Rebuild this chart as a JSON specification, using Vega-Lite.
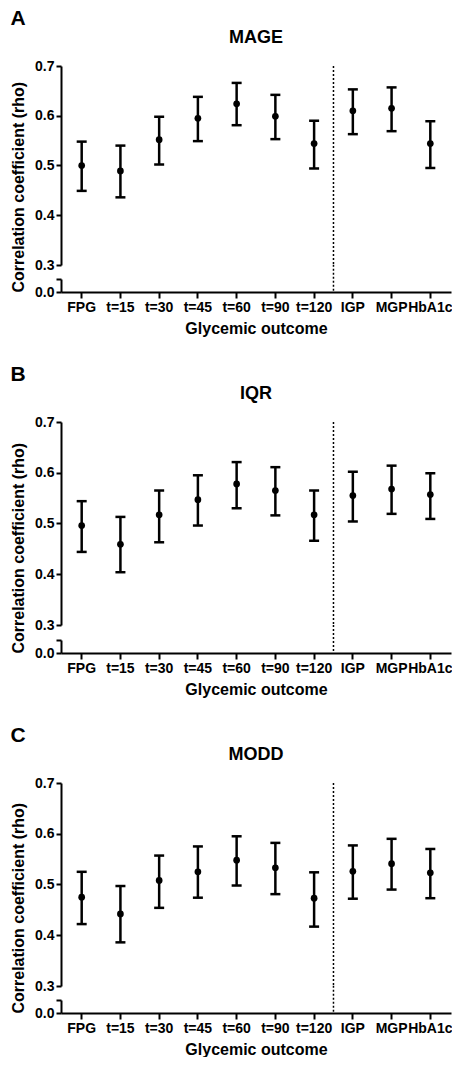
{
  "$schema": "https://vega.github.io/schema/vega-lite/v6.json",
  "padding": {"left": 10, "top": 8, "right": 0, "bottom": 0},
  "background": "white",
  "config": {
    "font": "Liberation Sans",
    "view": {"stroke": null},
    "title": {"font": "Liberation Sans", "fontWeight": "bold", "color": "black"},
    "axis": {
      "labelFont": "Liberation Sans", "labelFontSize": 14, "labelFontWeight": "bold", "labelColor": "black",
      "titleFont": "Liberation Sans", "titleFontSize": 16, "titleFontWeight": "bold", "titleColor": "black",
      "domainColor": "black", "tickColor": "black", "domainWidth": 2, "tickWidth": 2, "grid": false
    }
  },
  "datasets": {
    "d": [
      {"panel": "MAGE", "outcome": "FPG", "rho": 0.500, "lo": 0.449, "hi": 0.548},
      {"panel": "MAGE", "outcome": "t=15", "rho": 0.489, "lo": 0.436, "hi": 0.540},
      {"panel": "MAGE", "outcome": "t=30", "rho": 0.552, "lo": 0.502, "hi": 0.598},
      {"panel": "MAGE", "outcome": "t=45", "rho": 0.595, "lo": 0.549, "hi": 0.638},
      {"panel": "MAGE", "outcome": "t=60", "rho": 0.624, "lo": 0.581, "hi": 0.666},
      {"panel": "MAGE", "outcome": "t=90", "rho": 0.599, "lo": 0.553, "hi": 0.642},
      {"panel": "MAGE", "outcome": "t=120", "rho": 0.544, "lo": 0.494, "hi": 0.590},
      {"panel": "MAGE", "outcome": "IGP", "rho": 0.610, "lo": 0.563, "hi": 0.653},
      {"panel": "MAGE", "outcome": "MGP", "rho": 0.615, "lo": 0.569, "hi": 0.657},
      {"panel": "MAGE", "outcome": "HbA1c", "rho": 0.544, "lo": 0.495, "hi": 0.589},
      {"panel": "IQR", "outcome": "FPG", "rho": 0.496, "lo": 0.444, "hi": 0.544},
      {"panel": "IQR", "outcome": "t=15", "rho": 0.459, "lo": 0.404, "hi": 0.513},
      {"panel": "IQR", "outcome": "t=30", "rho": 0.517, "lo": 0.463, "hi": 0.565},
      {"panel": "IQR", "outcome": "t=45", "rho": 0.547, "lo": 0.496, "hi": 0.595},
      {"panel": "IQR", "outcome": "t=60", "rho": 0.578, "lo": 0.530, "hi": 0.621},
      {"panel": "IQR", "outcome": "t=90", "rho": 0.565, "lo": 0.516, "hi": 0.611},
      {"panel": "IQR", "outcome": "t=120", "rho": 0.517, "lo": 0.466, "hi": 0.565},
      {"panel": "IQR", "outcome": "IGP", "rho": 0.555, "lo": 0.504, "hi": 0.602},
      {"panel": "IQR", "outcome": "MGP", "rho": 0.568, "lo": 0.519, "hi": 0.614},
      {"panel": "IQR", "outcome": "HbA1c", "rho": 0.557, "lo": 0.509, "hi": 0.599},
      {"panel": "MODD", "outcome": "FPG", "rho": 0.475, "lo": 0.422, "hi": 0.525},
      {"panel": "MODD", "outcome": "t=15", "rho": 0.442, "lo": 0.386, "hi": 0.497},
      {"panel": "MODD", "outcome": "t=30", "rho": 0.508, "lo": 0.454, "hi": 0.557},
      {"panel": "MODD", "outcome": "t=45", "rho": 0.525, "lo": 0.474, "hi": 0.575},
      {"panel": "MODD", "outcome": "t=60", "rho": 0.548, "lo": 0.498, "hi": 0.595},
      {"panel": "MODD", "outcome": "t=90", "rho": 0.533, "lo": 0.481, "hi": 0.582},
      {"panel": "MODD", "outcome": "t=120", "rho": 0.473, "lo": 0.417, "hi": 0.524},
      {"panel": "MODD", "outcome": "IGP", "rho": 0.526, "lo": 0.472, "hi": 0.577},
      {"panel": "MODD", "outcome": "MGP", "rho": 0.541, "lo": 0.490, "hi": 0.590},
      {"panel": "MODD", "outcome": "HbA1c", "rho": 0.523, "lo": 0.473, "hi": 0.570}
    ]
  },
  "spacing": 28,
  "vconcat": [
    {
      "title": {"text": "A", "anchor": "start", "fontSize": 21, "offset": 0},
      "bounds": "flush",
      "spacing": 14,
      "vconcat": [
        {
          "width": 390, "height": 199,
          "title": {"text": "MAGE", "fontSize": 18, "offset": 12},
          "layer": [
            {
              "data": {"values": [{}]},
              "mark": {"type": "rule", "strokeDash": [2, 2], "strokeWidth": 1.5, "color": "black"},
              "encoding": {
                "x": {"datum": "IGP", "type": "nominal", "bandPosition": 0, "scale": {"type": "band", "domain": ["FPG","t=15","t=30","t=45","t=60","t=90","t=120","IGP","MGP","HbA1c"], "paddingInner": 0, "paddingOuter": 0.034}, "axis": null},
                "y": {"datum": 0.7, "type": "quantitative", "scale": {"domain": [0.3, 0.7], "nice": false, "zero": false}, "axis": {"title": null, "values": [0.3, 0.4, 0.5, 0.6, 0.7], "format": ".1f", "tickSize": 5, "labelPadding": 2}},
                "y2": {"datum": 0.3}
              }
            },
            {
              "data": {"name": "d"},
              "transform": [{"filter": "datum.panel === 'MAGE'"}],
              "mark": {"type": "rule", "strokeWidth": 2.5, "color": "black"},
              "encoding": {
                "x": {"field": "outcome", "type": "nominal", "sort": null},
                "y": {"field": "lo", "type": "quantitative"},
                "y2": {"field": "hi"}
              }
            },
            {
              "data": {"name": "d"},
              "transform": [{"filter": "datum.panel === 'MAGE'"}],
              "mark": {"type": "tick", "size": 10, "thickness": 2.5, "color": "black", "opacity": 1},
              "encoding": {
                "x": {"field": "outcome", "type": "nominal", "sort": null},
                "y": {"field": "lo", "type": "quantitative"}
              }
            },
            {
              "data": {"name": "d"},
              "transform": [{"filter": "datum.panel === 'MAGE'"}],
              "mark": {"type": "tick", "size": 10, "thickness": 2.5, "color": "black", "opacity": 1},
              "encoding": {
                "x": {"field": "outcome", "type": "nominal", "sort": null},
                "y": {"field": "hi", "type": "quantitative"}
              }
            },
            {
              "data": {"name": "d"},
              "transform": [{"filter": "datum.panel === 'MAGE'"}],
              "mark": {"type": "point", "shape": "circle", "filled": true, "size": 45, "color": "black", "opacity": 1},
              "encoding": {
                "x": {"field": "outcome", "type": "nominal", "sort": null},
                "y": {"field": "rho", "type": "quantitative"}
              }
            }
          ]
        },
        {
          "width": 390, "height": 13,
          "data": {"values": [{}]},
          "mark": {"type": "rule", "strokeDash": [2, 2], "strokeWidth": 1.5, "color": "black"},
          "encoding": {
            "x": {"datum": "IGP", "type": "nominal", "bandPosition": 0, "scale": {"type": "band", "domain": ["FPG","t=15","t=30","t=45","t=60","t=90","t=120","IGP","MGP","HbA1c"], "paddingInner": 0, "paddingOuter": 0.034}, "axis": {"title": "Glycemic outcome", "labelAngle": 0, "tickSize": 6, "labelPadding": 2, "titlePadding": 6}},
            "y": {"datum": 0.105, "type": "quantitative", "scale": {"domain": [0, 0.05], "nice": false}, "axis": {"title": "Correlation coefficient (rho)", "titleAnchor": "start", "values": [0, 0.05], "labelExpr": "datum.value == 0 ? '0.0' : ''", "tickSize": 5, "labelPadding": 2, "titlePadding": 8}},
            "y2": {"datum": 0}
          }
        }
      ]
    },
    {
      "title": {"text": "B", "anchor": "start", "fontSize": 21, "offset": 0},
      "bounds": "flush",
      "spacing": 15,
      "vconcat": [
        {
          "width": 390, "height": 203,
          "title": {"text": "IQR", "fontSize": 18, "offset": 12},
          "layer": [
            {
              "data": {"values": [{}]},
              "mark": {"type": "rule", "strokeDash": [2, 2], "strokeWidth": 1.5, "color": "black"},
              "encoding": {
                "x": {"datum": "IGP", "type": "nominal", "bandPosition": 0, "scale": {"type": "band", "domain": ["FPG","t=15","t=30","t=45","t=60","t=90","t=120","IGP","MGP","HbA1c"], "paddingInner": 0, "paddingOuter": 0.034}, "axis": null},
                "y": {"datum": 0.7, "type": "quantitative", "scale": {"domain": [0.3, 0.7], "nice": false, "zero": false}, "axis": {"title": null, "values": [0.3, 0.4, 0.5, 0.6, 0.7], "format": ".1f", "tickSize": 5, "labelPadding": 2}},
                "y2": {"datum": 0.3}
              }
            },
            {
              "data": {"name": "d"},
              "transform": [{"filter": "datum.panel === 'IQR'"}],
              "mark": {"type": "rule", "strokeWidth": 2.5, "color": "black"},
              "encoding": {
                "x": {"field": "outcome", "type": "nominal", "sort": null},
                "y": {"field": "lo", "type": "quantitative"},
                "y2": {"field": "hi"}
              }
            },
            {
              "data": {"name": "d"},
              "transform": [{"filter": "datum.panel === 'IQR'"}],
              "mark": {"type": "tick", "size": 10, "thickness": 2.5, "color": "black", "opacity": 1},
              "encoding": {
                "x": {"field": "outcome", "type": "nominal", "sort": null},
                "y": {"field": "lo", "type": "quantitative"}
              }
            },
            {
              "data": {"name": "d"},
              "transform": [{"filter": "datum.panel === 'IQR'"}],
              "mark": {"type": "tick", "size": 10, "thickness": 2.5, "color": "black", "opacity": 1},
              "encoding": {
                "x": {"field": "outcome", "type": "nominal", "sort": null},
                "y": {"field": "hi", "type": "quantitative"}
              }
            },
            {
              "data": {"name": "d"},
              "transform": [{"filter": "datum.panel === 'IQR'"}],
              "mark": {"type": "point", "shape": "circle", "filled": true, "size": 45, "color": "black", "opacity": 1},
              "encoding": {
                "x": {"field": "outcome", "type": "nominal", "sort": null},
                "y": {"field": "rho", "type": "quantitative"}
              }
            }
          ]
        },
        {
          "width": 390, "height": 13,
          "data": {"values": [{}]},
          "mark": {"type": "rule", "strokeDash": [2, 2], "strokeWidth": 1.5, "color": "black"},
          "encoding": {
            "x": {"datum": "IGP", "type": "nominal", "bandPosition": 0, "scale": {"type": "band", "domain": ["FPG","t=15","t=30","t=45","t=60","t=90","t=120","IGP","MGP","HbA1c"], "paddingInner": 0, "paddingOuter": 0.034}, "axis": {"title": "Glycemic outcome", "labelAngle": 0, "tickSize": 6, "labelPadding": 2, "titlePadding": 6}},
            "y": {"datum": 0.108, "type": "quantitative", "scale": {"domain": [0, 0.05], "nice": false}, "axis": {"title": "Correlation coefficient (rho)", "titleAnchor": "start", "values": [0, 0.05], "labelExpr": "datum.value == 0 ? '0.0' : ''", "tickSize": 5, "labelPadding": 2, "titlePadding": 8}},
            "y2": {"datum": 0}
          }
        }
      ]
    },
    {
      "title": {"text": "C", "anchor": "start", "fontSize": 21, "offset": 0},
      "bounds": "flush",
      "spacing": 14,
      "vconcat": [
        {
          "width": 390, "height": 203,
          "title": {"text": "MODD", "fontSize": 18, "offset": 12},
          "layer": [
            {
              "data": {"values": [{}]},
              "mark": {"type": "rule", "strokeDash": [2, 2], "strokeWidth": 1.5, "color": "black"},
              "encoding": {
                "x": {"datum": "IGP", "type": "nominal", "bandPosition": 0, "scale": {"type": "band", "domain": ["FPG","t=15","t=30","t=45","t=60","t=90","t=120","IGP","MGP","HbA1c"], "paddingInner": 0, "paddingOuter": 0.034}, "axis": null},
                "y": {"datum": 0.7, "type": "quantitative", "scale": {"domain": [0.3, 0.7], "nice": false, "zero": false}, "axis": {"title": null, "values": [0.3, 0.4, 0.5, 0.6, 0.7], "format": ".1f", "tickSize": 5, "labelPadding": 2}},
                "y2": {"datum": 0.3}
              }
            },
            {
              "data": {"name": "d"},
              "transform": [{"filter": "datum.panel === 'MODD'"}],
              "mark": {"type": "rule", "strokeWidth": 2.5, "color": "black"},
              "encoding": {
                "x": {"field": "outcome", "type": "nominal", "sort": null},
                "y": {"field": "lo", "type": "quantitative"},
                "y2": {"field": "hi"}
              }
            },
            {
              "data": {"name": "d"},
              "transform": [{"filter": "datum.panel === 'MODD'"}],
              "mark": {"type": "tick", "size": 10, "thickness": 2.5, "color": "black", "opacity": 1},
              "encoding": {
                "x": {"field": "outcome", "type": "nominal", "sort": null},
                "y": {"field": "lo", "type": "quantitative"}
              }
            },
            {
              "data": {"name": "d"},
              "transform": [{"filter": "datum.panel === 'MODD'"}],
              "mark": {"type": "tick", "size": 10, "thickness": 2.5, "color": "black", "opacity": 1},
              "encoding": {
                "x": {"field": "outcome", "type": "nominal", "sort": null},
                "y": {"field": "hi", "type": "quantitative"}
              }
            },
            {
              "data": {"name": "d"},
              "transform": [{"filter": "datum.panel === 'MODD'"}],
              "mark": {"type": "point", "shape": "circle", "filled": true, "size": 45, "color": "black", "opacity": 1},
              "encoding": {
                "x": {"field": "outcome", "type": "nominal", "sort": null},
                "y": {"field": "rho", "type": "quantitative"}
              }
            }
          ]
        },
        {
          "width": 390, "height": 13,
          "data": {"values": [{}]},
          "mark": {"type": "rule", "strokeDash": [2, 2], "strokeWidth": 1.5, "color": "black"},
          "encoding": {
            "x": {"datum": "IGP", "type": "nominal", "bandPosition": 0, "scale": {"type": "band", "domain": ["FPG","t=15","t=30","t=45","t=60","t=90","t=120","IGP","MGP","HbA1c"], "paddingInner": 0, "paddingOuter": 0.034}, "axis": {"title": "Glycemic outcome", "labelAngle": 0, "tickSize": 6, "labelPadding": 2, "titlePadding": 6}},
            "y": {"datum": 0.105, "type": "quantitative", "scale": {"domain": [0, 0.05], "nice": false}, "axis": {"title": "Correlation coefficient (rho)", "titleAnchor": "start", "values": [0, 0.05], "labelExpr": "datum.value == 0 ? '0.0' : ''", "tickSize": 5, "labelPadding": 2, "titlePadding": 8}},
            "y2": {"datum": 0}
          }
        }
      ]
    }
  ]
}
